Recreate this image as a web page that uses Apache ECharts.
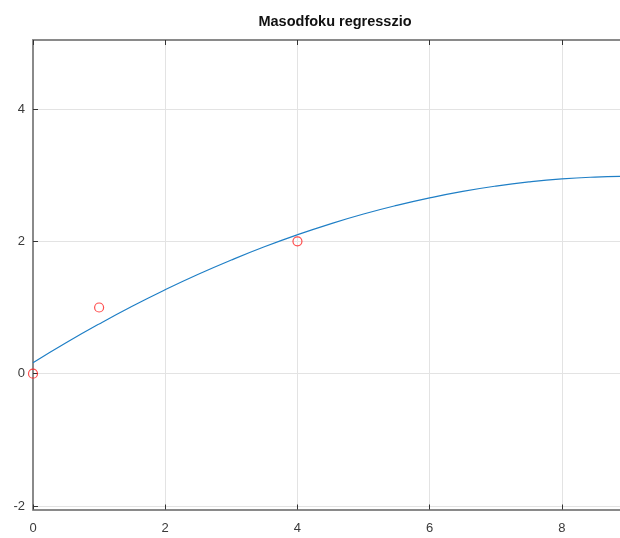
<!DOCTYPE html>
<html>
<head>
<meta charset="utf-8">
<script src="https://cdn.jsdelivr.net/npm/echarts@6/dist/echarts.min.js"></script>
<style>
  html, body { margin: 0; padding: 0; background: #fff; }
  #chart { width: 620px; height: 538px; }
</style>
</head>
<body>
<div id="chart"></div>
<script>
// Measured points
const pointX = [0, 1, 4];
const pointY = [0, 1, 2];

// Second-order regression curve, sampled along x
const curveX = [0, 0.5, 1, 1.5, 2, 2.5, 3, 3.5, 4, 4.5, 5, 5.5, 6, 6.5, 7, 7.5, 8, 8.5, 9];
const curveY = [0.166, 0.467, 0.751, 1.019, 1.269, 1.502, 1.718, 1.918, 2.100, 2.265,
                2.413, 2.543, 2.657, 2.755, 2.835, 2.898, 2.944, 2.971, 2.983];

// Tick labels
const xTicks = [0, 2, 4, 6, 8];
const yTicks = [-2, 0, 2, 4];

const titleText = 'Masodfoku regresszio';

const font = '"Liberation Sans", Arial, Helvetica, sans-serif';
const axisColor = '#8a8a8a';
const gridColor = '#e3e3e3';
const labelColor = '#3a3a3a';

const chart = echarts.init(document.getElementById('chart'), null, { renderer: 'canvas' });

const option = {
  animation: false,
  backgroundColor: '#ffffff',
  title: {
    text: titleText,
    left: 330,
    top: 9,
    textAlign: 'center',
    textStyle: { fontFamily: font, fontSize: 14.5, fontWeight: 'bold', color: '#111' }
  },
  // the plot box runs slightly past the right edge of the canvas
  grid: { left: 33, top: 40, width: 595, height: 469.5, containLabel: false, outerBoundsMode: 'none' },
  xAxis: [
    {
      type: 'value',
      min: 0, max: 9,
      position: 'bottom',
      axisLine: { show: true, onZero: false, lineStyle: { color: axisColor, width: 2 } },
      axisTick: { show: true, inside: true, length: 5, customValues: xTicks, lineStyle: { color: '#333', width: 1 } },
      axisLabel: { customValues: xTicks, color: labelColor, fontFamily: font, fontSize: 13, margin: 12 },
      splitLine: { show: true, lineStyle: { color: gridColor, width: 1 } }
    },
    {
      type: 'value',
      min: 0, max: 9,
      position: 'top',
      axisLine: { show: true, onZero: false, lineStyle: { color: axisColor, width: 2 } },
      axisTick: { show: true, inside: true, length: 5, customValues: xTicks, lineStyle: { color: '#333', width: 1 } },
      axisLabel: { show: false },
      splitLine: { show: false }
    }
  ],
  yAxis: {
    type: 'value',
    min: -2.053, max: 5.043,
    axisLine: { show: true, onZero: false, lineStyle: { color: axisColor, width: 2 } },
    axisTick: { show: true, inside: true, length: 5, customValues: yTicks, lineStyle: { color: '#333', width: 1 } },
    axisLabel: { customValues: yTicks, color: labelColor, fontFamily: font, fontSize: 13, margin: 8 },
    splitLine: { show: true, lineStyle: { color: gridColor, width: 1 } }
  },
  series: [
    {
      name: 'fit',
      type: 'line',
      data: curveX.map((x, i) => [x, curveY[i]]),
      smooth: true,
      showSymbol: false,
      lineStyle: { color: '#1f7fc6', width: 1.2 },
      z: 2
    },
    {
      name: 'points',
      type: 'scatter',
      data: pointX.map((x, i) => [x, pointY[i]]),
      symbol: 'circle',
      symbolSize: 9,
      clip: false,
      itemStyle: { color: 'rgba(0,0,0,0)', borderColor: '#ff2020', borderWidth: 1.2 },
      z: 3
    }
  ]
};

chart.setOption(option);
</script>
</body>
</html>
